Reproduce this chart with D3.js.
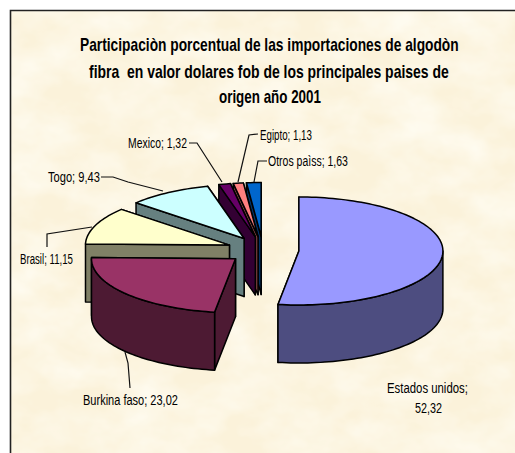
<!DOCTYPE html>
<html>
<head>
<meta charset="utf-8">
<script src="https://cdn.jsdelivr.net/npm/d3@7"></script>
<style>
  html, body { margin: 0; padding: 0; background: #fff; }
  svg { display: block; }
</style>
</head>
<body>
<div id="chart"></div>
<script>
// data
const paises = ["Estados unidos", "Burkina faso", "Brasil", "Togo", "Mexico", "Egipto", "Otros paìss"];
const valores = [52.32, 23.02, 11.15, 9.43, 1.32, 1.13, 1.63];
const titulo = [
  "Participaciòn porcentual de las importaciones de algodòn",
  "fibra  en valor dolares fob de los principales paises de",
  "origen año 2001"
];

// colores
const colorTop = ["#9999ff", "#993366", "#ffffcc", "#ccffff", "#660066", "#ff8080", "#0066cc"];
const colorSide = ["#4d4d80", "#4d1a33", "#808066", "#668080", "#330033", "#804040", "#003366"];

// layout
const W = 515, H = 453;
const cx = 263, cy = 250;        // centro del pie sin explotar
const rx = 144, ry = 54;         // elipse proyectada
const depth = 58, explode = 36;

// x, ancho, y base, por pais
const labelBox = [
  null,
  [83, 95, 405],
  [20, 53, 264],
  [48, 52, 182],
  [128, 59, 148],
  [260, 52, 140],
  [268, 80, 166]
];
const leaders = [
  null,
  [[130, 388], [128, 363], [125, 352]],
  [[47, 247], [47, 234], [92, 227]],
  [[101, 177], [113, 177], [128, 182], [163, 191]],
  [[189, 143], [197, 143], [222, 182]],
  [[258, 134], [249, 135], [238, 182]],
  [[267, 161], [258, 161], [254, 182]]
];

const svg = d3.select("#chart").append("svg")
  .attr("width", W)
  .attr("height", H);

// textura pergamino
const defs = svg.append("defs");
const f = defs.append("filter").attr("id", "papel")
  .attr("x", 0).attr("y", 0).attr("width", "100%").attr("height", "100%");
f.append("feTurbulence")
  .attr("type", "fractalNoise")
  .attr("baseFrequency", "0.018 0.026")
  .attr("numOctaves", 4)
  .attr("seed", 7);
f.append("feColorMatrix")
  .attr("type", "matrix")
  .attr("values", "0 0 0 0 1  0 0 0 0 0.98  0 0 0 0 0.9  1.6 0 0 0 -0.5");

svg.append("rect")
  .attr("x", 10).attr("y", 10)
  .attr("width", W - 10).attr("height", H - 10)
  .attr("fill", "#fbf2da");
svg.append("rect")
  .attr("x", 10).attr("y", 10)
  .attr("width", W - 10).attr("height", H - 10)
  .attr("filter", "url(#papel)");
// marco, solo arriba e izquierda
svg.append("path")
  .attr("d", d3.line()([[10.5, H], [10.5, 10.5], [W, 10.5]]))
  .attr("fill", "none")
  .attr("stroke", "#222")
  .attr("stroke-width", 1.6);

// texto angosto: se escala en x hasta el ancho pedido
function texto(x, y, ancho, txt, size, weight) {
  const t = svg.append("text")
    .attr("x", 0)
    .attr("y", 0)
    .style("white-space", "pre")
    .style("font-family", "'Liberation Sans', Arial, sans-serif")
    .style("font-size", size + "px")
    .style("font-weight", weight)
    .style("fill", "#000")
    .text(txt);
  const sx = ancho / t.node().getComputedTextLength();
  t.attr("transform", `translate(${x},${y}) scale(${sx},1)`);
}

// titulo
const tituloBox = [[80, 379, 51], [89, 360, 78], [219, 102, 103]];
titulo.forEach((d, i) => texto(tituloBox[i][0], tituloBox[i][2], tituloBox[i][1], d, 18, "bold"));

// pie 3D
const slices = d3.pie().sort(null).value(d => d)(valores);
const line = d3.line();

function punto(o, a, r = 1) {
  return [o[0] + rx * r * Math.sin(a), o[1] - ry * r * Math.cos(a)];
}
function arco(o, a0, a1) {
  const n = Math.max(2, Math.ceil(Math.abs(a1 - a0) / 0.03));
  return d3.range(n + 1).map(i => punto(o, a0 + (a1 - a0) * i / n));
}
const abajo = p => [p[0], p[1] + depth];

const orden = d3.range(slices.length).reverse().sort((a, b) => {
  // de atras hacia adelante: los chicos, Togo, Brasil, Burkina, Estados
  return (a === 0 ? 99 : slices.length - a) - (b === 0 ? 99 : slices.length - b);
});

orden.forEach(i => {
  const s = slices[i];
  const mid = (s.startAngle + s.endAngle) / 2;
  const o = [cx + explode * Math.sin(mid), cy - explode * (ry / rx) * Math.cos(mid)];
  const g = svg.append("g")
    .attr("stroke", "#000")
    .attr("stroke-width", 1.5)
    .attr("stroke-linejoin", "round");

  // paredes radiales
  [s.endAngle, s.startAngle].forEach(a => {
    const p = punto(o, a);
    g.append("path")
      .attr("d", line([o, p, abajo(p), abajo(o)]) + "Z")
      .attr("fill", colorSide[i]);
  });

  // pared exterior, solo lo que mira al frente
  const a0 = Math.max(s.startAngle, Math.PI / 2);
  const a1 = Math.min(s.endAngle, 3 * Math.PI / 2);
  if (a1 > a0) {
    const borde = arco(o, a0, a1);
    g.append("path")
      .attr("d", line(borde.concat(borde.map(abajo).reverse())) + "Z")
      .attr("fill", colorSide[i]);
  }

  // cara superior
  g.append("path")
    .attr("d", line([o].concat(arco(o, s.startAngle, s.endAngle))) + "Z")
    .attr("fill", colorTop[i]);
});

// lineas guia
svg.selectAll(".guia")
  .data(leaders.filter(d => d))
  .enter().append("path")
    .attr("class", "guia")
    .attr("d", d => line(d))
    .attr("fill", "none")
    .attr("stroke", "#111")
    .attr("stroke-width", 1.2);

// etiquetas
const fmt = v => String(v.toFixed(2)).replace(".", ",");
paises.forEach((p, i) => {
  if (!labelBox[i]) return;
  texto(labelBox[i][0], labelBox[i][2], labelBox[i][1], `${p}; ${fmt(valores[i])}`, 15, "normal");
});
// Estados unidos va en dos lineas
texto(387, 393, 81, `${paises[0]};`, 15, "normal");
texto(415, 413, 27, fmt(valores[0]), 15, "normal");
</script>
</body>
</html>
